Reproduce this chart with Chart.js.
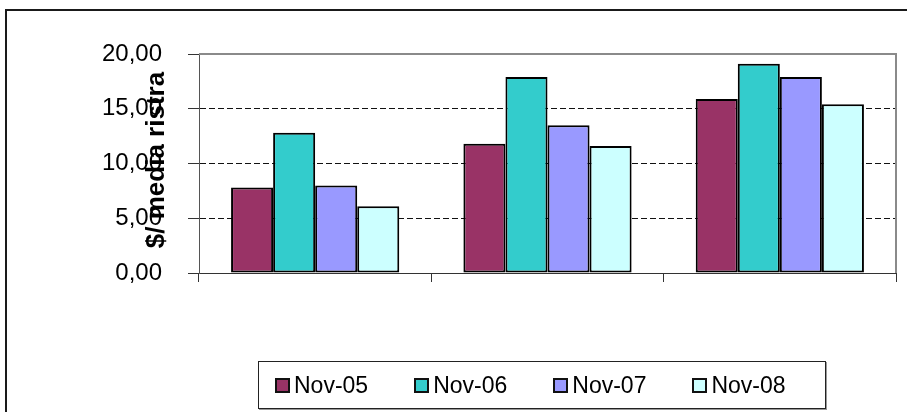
<!DOCTYPE html>
<html>
<head>
<meta charset="utf-8">
<script src="https://cdn.jsdelivr.net/npm/chart.js@4"></script>
<style>
  html, body { margin: 0; padding: 0; width: 907px; height: 412px; overflow: hidden; background: #fff; }
  #wrap { position: absolute; left: 0; top: 0; width: 907px; height: 412px; }
  #frame { position: absolute; left: 5px; top: 9px; width: 960px; height: 460px; border: 2px solid #1a1a1a; box-sizing: border-box; pointer-events: none; }
  canvas { position: absolute; left: 0; top: 0; }
  #legend { position: absolute; left: 258px; top: 361px; width: 568px; height: 48px; box-sizing: border-box;
            border: 1px solid #222; box-shadow: 1px 1px 0 #999; display: flex; align-items: center; padding-left: 16px;
            font-family: 'Liberation Sans', Arial, sans-serif; font-size: 23px; color: #000; }
  .item { display: flex; align-items: center; margin-right: 46px; white-space: pre; }
  .sw { width: 15px; height: 15px; box-sizing: border-box; border: 2px solid #111; margin-right: 4px; }
</style>
</head>
<body>
<div id="wrap">
  <canvas id="c" width="907" height="412"></canvas>
  <div id="frame"></div>
  <div id="legend"></div>
</div>
<script>
const categories = ['', '', ''];
const seriesNames = ['Nov-05', 'Nov-06', 'Nov-07', 'Nov-08'];
const nov05 = [7.8, 11.8, 15.9];
const nov06 = [12.8, 17.9, 19.1];
const nov07 = [8.0, 13.5, 17.9];
const nov08 = [6.1, 11.6, 15.4];
const yTicks = [0, 5, 10, 15, 20];
const yTitle = '$/ media ristra';
const colors = ['#993366', '#33CCCC', '#9999FF', '#CCFFFF'];

const seriesValues = [nov05, nov06, nov07, nov08];
const FONT = "'Liberation Sans', Arial, sans-serif";

const frameLines = {
  id: 'frameLines',
  afterDatasetsDraw(chart) {
    const a = chart.chartArea, ctx = chart.ctx;
    ctx.save();
    ctx.strokeStyle = '#8a8a8a';
    ctx.lineWidth = 2;
    ctx.beginPath();
    ctx.moveTo(a.left, a.top);
    ctx.lineTo(a.right, a.top);
    ctx.lineTo(a.right, a.bottom);
    ctx.stroke();
    ctx.restore();
  },
  afterDraw(chart) {
    const ctx = chart.ctx;
    ctx.save();
    ctx.fillStyle = '#000';
    ctx.font = 'bold 26px ' + FONT;
    ctx.textAlign = 'center';
    ctx.textBaseline = 'alphabetic';
    ctx.translate(164, 160);
    ctx.rotate(-Math.PI / 2);
    ctx.fillText(yTitle, 0, 0);
    ctx.restore();
  }
};

new Chart(document.getElementById('c'), {
  type: 'bar',
  data: {
    labels: categories,
    datasets: seriesNames.map((n, i) => ({
      label: n,
      data: seriesValues[i],
      backgroundColor: colors[i],
      borderColor: '#000',
      borderWidth: 2,
      borderSkipped: false,
      categoryPercentage: 0.724,
      barPercentage: 1.0
    }))
  },
  options: {
    responsive: false,
    animation: false,
    devicePixelRatio: 1,
    layout: { padding: { left: 0, top: 54, right: 11, bottom: 0 } },
    plugins: { legend: { display: false }, tooltip: { enabled: false }, title: { display: false } },
    scales: {
      x: {
        afterFit: (s) => { s.height = 139; },
        ticks: { display: false },
        grid: { display: true, drawOnChartArea: false, offset: true, drawTicks: true, tickLength: 9, tickColor: '#333', tickWidth: 1 },
        border: { display: true, color: '#333', width: 1 }
      },
      y: {
        min: 0, max: 20,
        afterFit: (s) => { s.width = 199; },
        afterBuildTicks: (s) => { s.ticks = yTicks.map(v => ({ value: v })); },
        ticks: {
          padding: 26,
          color: '#000',
          font: { family: FONT, size: 24 },
          callback: (v) => Number(v).toFixed(2).replace('.', ',')
        },
        grid: {
          drawTicks: true, tickLength: 11, tickColor: '#333', tickWidth: 1,
          lineWidth: 1,
          color: (c) => (c.tick && (c.tick.value === 20 || c.tick.value === 0)) ? 'rgba(0,0,0,0)' : '#111'
        },
        border: {
          display: true, color: '#555', width: 1,
          dash: (c) => (c.tick && c.tick.value > 0 && c.tick.value < 20) ? [6, 3] : []
        }
      }
    }
  },
  plugins: [frameLines]
});

const lg = document.getElementById('legend');
seriesNames.forEach((n, i) => {
  const it = document.createElement('div');
  it.className = 'item';
  const sw = document.createElement('div');
  sw.className = 'sw';
  sw.style.background = colors[i];
  const tx = document.createElement('span');
  tx.textContent = n;
  it.appendChild(sw); it.appendChild(tx);
  lg.appendChild(it);
});
</script>
</body>
</html>
